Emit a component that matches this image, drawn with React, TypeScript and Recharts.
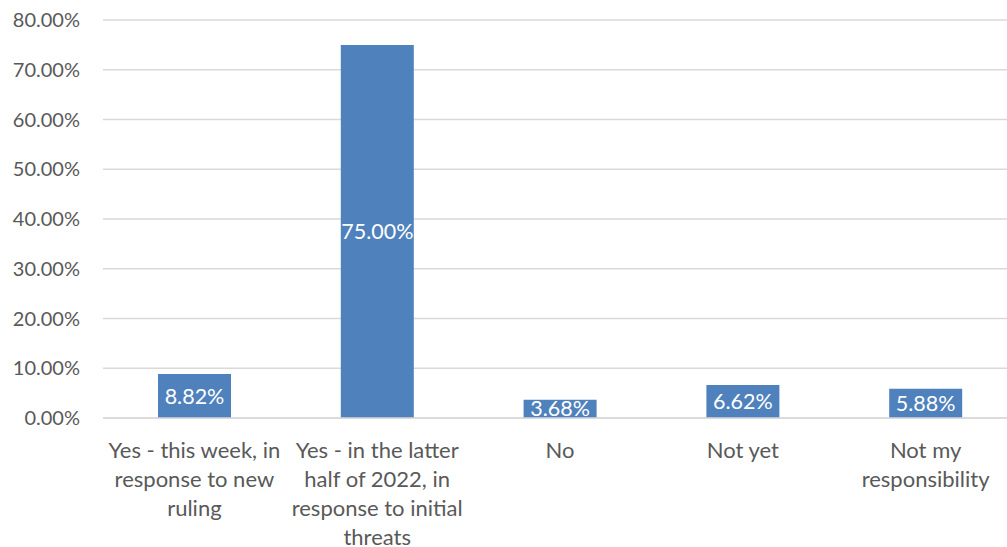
import React from "react";
import { BarChart, Bar, XAxis, YAxis, CartesianGrid, LabelList } from "recharts";

const categories = [
  "Yes - this week, in response to new ruling",
  "Yes - in the latter half of 2022, in response to initial threats",
  "No",
  "Not yet",
  "Not my responsibility",
];
const values = [8.82, 75.0, 3.68, 6.62, 5.88];
const tickLabelLines = [
  ["Yes - this week, in", "response to new", "ruling"],
  ["Yes - in the latter", "half of 2022, in", "response to initial", "threats"],
  ["No"],
  ["Not yet"],
  ["Not my", "responsibility"],
];
const yTicks = [0, 10, 20, 30, 40, 50, 60, 70, 80];

const data = categories.map((c, i) => ({ name: c, value: values[i], idx: i }));

const FONT = "Lato, 'Open Sans', sans-serif";
const TEXT = "#595959";

const XTick = (props: any) => {
  const { x, y, index } = props;
  const lines = tickLabelLines[index] || [];
  return (
    <text x={x} y={y} textAnchor="middle" fill={TEXT} fontSize={22} fontFamily={FONT}>
      {lines.map((l: string, i: number) => (
        <tspan key={i} x={x} y={y + 32 + i * 29}>
          {l}
        </tspan>
      ))}
    </text>
  );
};

export default function App() {
  return (
    <div style={{ position: "absolute", left: 0, top: 0, width: 1007, height: 547, overflow: "hidden", background: "#fff" }}>
      <BarChart
        width={1017}
        height={547}
        data={data}
        margin={{ top: 20, right: 0, left: 0, bottom: 0 }}
      >
        <CartesianGrid vertical={false} stroke="#D9D9D9" strokeWidth={1.5} />
        <XAxis
          dataKey="name"
          height={129}
          axisLine={{ stroke: "#D9D9D9", strokeWidth: 1.5 }}
          tickLine={false}
          interval={0}
          tick={<XTick />}
        />
        <YAxis
          width={103}
          domain={[0, 80]}
          ticks={yTicks}
          interval={0}
          axisLine={false}
          tickLine={false}
          tickSize={0}
          tickMargin={23}
          tickFormatter={(v: number) => `${v.toFixed(2)}%`}
          tick={{ fill: TEXT, fontSize: 20, fontFamily: FONT }}
        />
        <Bar dataKey="value" fill="#4F81BD" barSize={73} isAnimationActive={false}>
          <LabelList
            dataKey="value"
            position="center"
            fill="#FFFFFF"
            fontSize={21.5}
            fontFamily={FONT}
            formatter={(v: any) => `${Number(v).toFixed(2)}%`}
          />
        </Bar>
      </BarChart>
    </div>
  );
}
